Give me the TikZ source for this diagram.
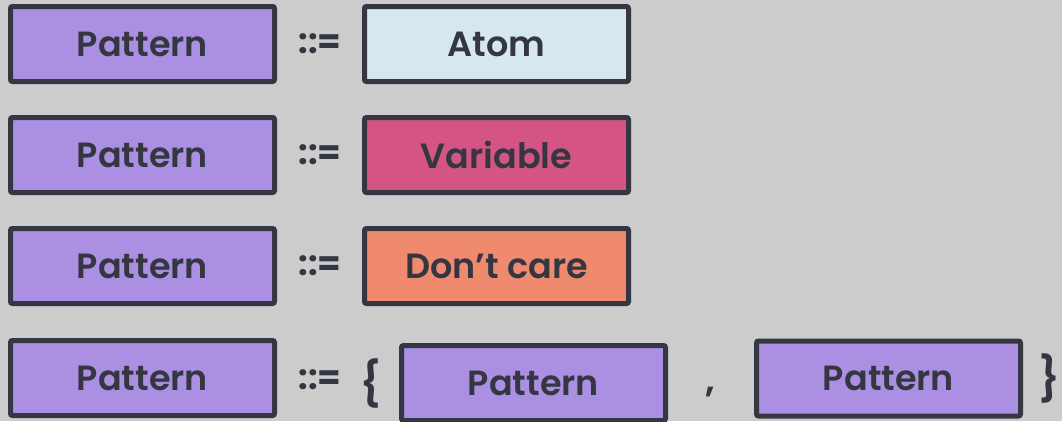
\documentclass[tikz,border=0pt]{standalone}
\usepackage{fontspec}
\setmainfont{Poppins}[UprightFont={* SemiBold}, BoldFont={* Bold}]
\definecolor{bg}{HTML}{CCCCCC}
\definecolor{ink}{HTML}{343741}
\definecolor{patfill}{HTML}{AB8FE3}
\definecolor{atomfill}{HTML}{D7E7EE}
\definecolor{varfill}{HTML}{D45584}
\definecolor{dcfill}{HTML}{EF8A6E}
\tikzset{
  term/.style={draw=ink, line width=5pt, rounded corners=2pt, minimum width=264pt,
    minimum height=75pt, inner sep=0pt, text=ink, font=\fontsize{35}{42}\selectfont},
  pat/.style={term, fill=patfill},
  sym/.style={text=ink, inner sep=0pt, font=\fontsize{34}{40}\selectfont\bfseries}
}
\begin{document}
\begin{tikzpicture}[x=1pt, y=-1pt]
  \fill[bg] (0,0) rectangle (1062,421);
  \useasboundingbox (0,0) rectangle (1062,421);
  % Pattern ::= Atom
  \node[pat] (p1) at (142.5,44) {Pattern};
  \node[sym] (d1) at (320,44) {::=};
  \node[term, fill=atomfill] (a1) at (496.5,44) {Atom};
  % Pattern ::= Variable
  \node[pat] (p2) at (142.5,155) {Pattern};
  \node[sym] (d2) at (320,155) {::=};
  \node[term, fill=varfill] (a2) at (496.5,155) {Variable};
  % Pattern ::= Don't care
  \node[pat] (p3) at (142.5,266) {Pattern};
  \node[sym] (d3) at (320,266) {::=};
  \node[term, fill=dcfill] (a3) at (496.5,266) {Don’t care};
  % Pattern ::= { Pattern , Pattern }
  \node[pat] (p4) at (142.5,378) {Pattern};
  \node[sym] (d4) at (320,380) {::=};
  \node[sym, font=\fontsize{44}{50}\selectfont] (lb) at (371,383) {\{};
  \node[pat] (p5) at (533.5,383) {Pattern};
  \node[sym] (cm) at (710,392) {,};
  \node[pat] (p6) at (888.5,378.5) {Pattern};
  \node[sym, font=\fontsize{44}{50}\selectfont] (rb) at (1050,378) {\}};
\end{tikzpicture}
\end{document}
